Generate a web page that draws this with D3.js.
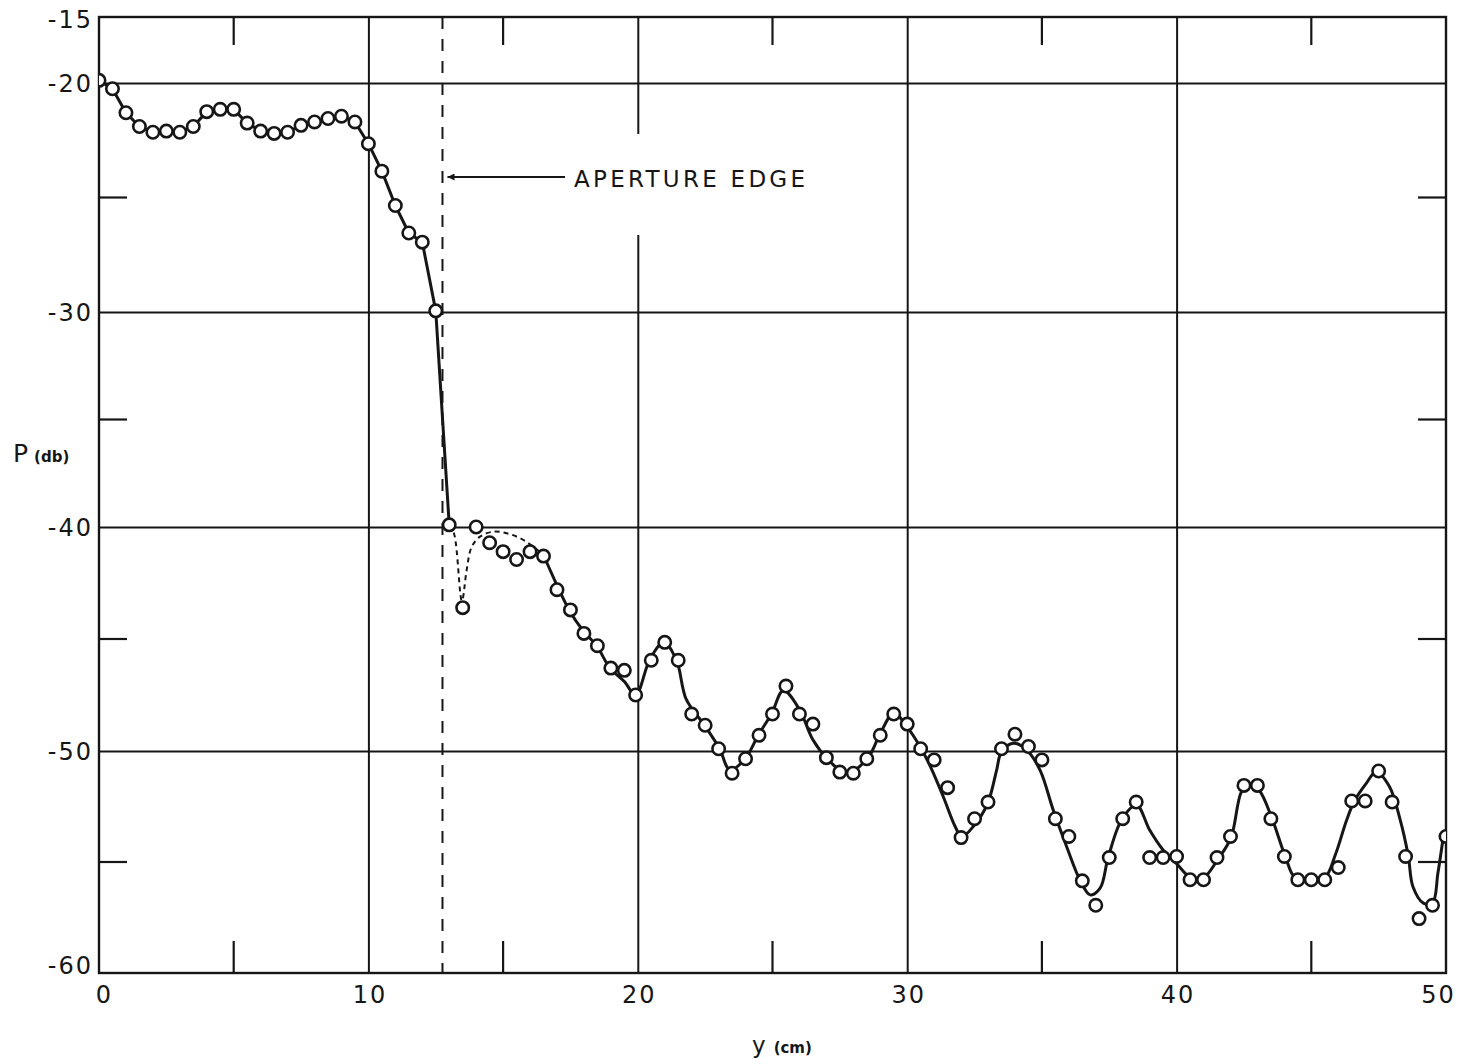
<!DOCTYPE html>
<html>
<head>
<meta charset="utf-8">
<script src="https://cdn.jsdelivr.net/npm/d3@7"></script>
<style>
  html, body { margin: 0; padding: 0; background: #fff; }
  svg { display: block; }
  text { font-family: "DejaVu Sans", sans-serif; fill: #161616; }
</style>
</head>
<body>
<svg id="chart" width="1460" height="1064"></svg>
<script>
// Measured power (dB) across the aperture, sampled every 0.5 cm
const measuredPos = [
  0, 0.5, 1, 1.5, 2, 2.5, 3, 3.5, 4, 4.5,
  5, 5.5, 6, 6.5, 7, 7.5, 8, 8.5, 9, 9.5,
  10, 10.5, 11, 11.5, 12, 12.5, 13, 13.5, 14, 14.5,
  15, 15.5, 16, 16.5, 17, 17.5, 18, 18.5, 19, 19.5,
  19.92, 20.5, 21, 21.5, 22, 22.5, 23, 23.5, 24, 24.5,
  25, 25.5, 26, 26.5, 27, 27.5, 28, 28.5, 29, 29.5,
  30, 30.5, 31, 31.5, 32, 32.5, 33, 33.5, 34, 34.5,
  35, 35.5, 36, 36.5, 37, 37.5, 38, 38.5, 39, 39.5,
  40, 40.5, 41, 41.5, 42, 42.5, 43, 43.5, 44, 44.5,
  45, 45.5, 46, 46.5, 47, 47.5, 48, 48.5, 49, 49.5,
  50
];
const measuredDb = [
  -19.8, -20.25, -21.3, -21.9, -22.15, -22.1, -22.15, -21.9, -21.25, -21.15,
  -21.15, -21.75, -22.1, -22.2, -22.15, -21.85, -21.7, -21.55, -21.45, -21.7,
  -22.65, -23.85, -25.35, -26.55, -26.95, -29.95, -39.9, -43.6, -40.0, -40.7,
  -41.1, -41.45, -41.1, -41.3, -42.8, -43.7, -44.75, -45.3, -46.3, -46.4,
  -47.5, -45.95, -45.15, -45.95, -48.35, -48.85, -49.9, -51.0, -50.35, -49.3,
  -48.35, -47.1, -48.35, -48.8, -50.3, -50.95, -51.0, -50.35, -49.3, -48.35,
  -48.8, -49.9, -50.4, -51.65, -53.9, -53.05, -52.3, -49.9, -49.25, -49.8,
  -50.4, -53.05, -53.85, -55.85, -56.95, -54.8, -53.05, -52.3, -54.8, -54.8,
  -54.75, -55.8, -55.8, -54.8, -53.85, -51.55, -51.55, -53.05, -54.75, -55.8,
  -55.8, -55.8, -55.25, -52.25, -52.25, -50.9, -52.3, -54.75, -57.55, -56.95,
  -53.85
];

// Inside the aperture the solid line joins the samples directly, up to this position
const directLineEnd = 13;

// Smoothed trace drawn through the diffraction region beyond the edge
const fitPos = [
  16.5, 17.0, 17.45, 17.95, 18.47, 18.97, 19.5, 19.92, 20.45, 20.97,
  21.44, 21.8, 22.47, 23.03, 23.42, 23.98, 24.47, 24.97, 25.4, 25.98,
  26.5, 27.0, 27.75, 28.53, 28.97, 29.5, 29.98, 30.5, 30.9, 31.34,
  31.78, 32.02, 32.52, 32.99, 33.32, 33.5, 33.94, 34.43, 34.93, 35.42,
  35.92, 36.41, 36.79, 37.16, 37.46, 37.96, 38.51, 39.0, 39.5, 39.99,
  40.52, 41.0, 41.52, 42.02, 42.4, 42.69, 43.06, 43.53, 44.02, 44.4,
  45.0, 45.5, 45.9, 46.3, 46.6, 47.04, 47.41, 47.9, 48.3, 48.6,
  48.77, 49.16, 49.5, 49.7, 49.9
];
const fitDb = [
  -41.25, -42.6, -43.7, -44.6, -45.3, -46.3, -46.9, -47.5, -45.9, -45.15,
  -45.97, -47.7, -48.84, -49.88, -50.85, -50.36, -49.3, -48.33, -47.3, -48.1,
  -49.5, -50.3, -51.0, -50.33, -49.3, -48.3, -48.9, -49.85, -50.8, -52.06,
  -53.4, -53.86, -53.3, -52.35, -50.86, -50.03, -49.65, -49.95, -50.86, -52.66,
  -54.31, -55.8, -56.48, -56.18, -54.8, -53.1, -52.43, -53.56, -54.46, -55.06,
  -55.7, -55.7, -54.9, -53.9, -51.85, -51.46, -51.76, -53.0, -54.7, -55.7,
  -55.7, -55.7, -54.65, -53.15, -52.25, -51.46, -50.93, -51.6, -53.1, -54.73,
  -56.1, -56.85, -56.85, -55.5, -53.86
];

// Dotted interpolation just past the aperture edge
const dashPos = [13.0, 13.18, 13.47, 13.65, 13.83, 14.14, 14.64, 15.13, 15.63, 16.12, 16.5];
const dashDb  = [-39.9, -40.3, -43.3, -41.9, -40.9, -40.43, -40.21, -40.28, -40.5, -40.88, -41.25];

// Aperture edge marker
const apertureEdge = 12.75;
const apertureLabel = "APERTURE EDGE";

// Axis ticks
const xTickLabels = [0, 10, 20, 30, 40, 50];
const yTickLabels = [-15, -20, -30, -40, -50, -60];
const xGridValues = [10, 20, 30, 40];
const yGridValues = [-20, -30, -40, -50];
const xMinorTicks = [5, 15, 25, 35, 45];
const yMinorTicks = [-25, -35, -45, -55];
const xTitle = "y";
const xUnit = "(cm)";
const yTitle = "P";
const yUnit = "(db)";

const ink = "#161616";
const svg = d3.select("#chart");

const x = d3.scaleLinear().domain([0, 50]).range([99, 1446]);
const y = d3.scaleLinear()
  .domain([-60, -50, -40, -30, -20, -15])
  .range([973, 751, 527, 312, 83, 17]);

const plotLeft = x(0), plotRight = x(50), plotTop = y(-15), plotBottom = y(-60);

const defs = svg.append("defs");
defs.append("clipPath").attr("id", "plot-clip")
  .append("rect")
  .attr("x", plotLeft).attr("y", plotTop)
  .attr("width", plotRight - plotLeft).attr("height", plotBottom - plotTop);

// Grid lines
const gx = svg.append("g")
  .attr("transform", `translate(0,${plotBottom})`)
  .call(d3.axisBottom(x).tickValues(xGridValues).tickSize(-(plotBottom - plotTop)).tickFormat(""));
const gy = svg.append("g")
  .attr("transform", `translate(${plotLeft},0)`)
  .call(d3.axisLeft(y).tickValues(yGridValues).tickSize(-(plotRight - plotLeft)).tickFormat(""));
[gx, gy].forEach(g => {
  g.select(".domain").remove();
  g.selectAll("line").attr("stroke", ink).attr("stroke-width", 2);
});

// Short ticks on all four sides
const minorLen = 28;
const minor = svg.append("g").attr("stroke", ink).attr("stroke-width", 2.2);
xMinorTicks.forEach(v => {
  minor.append("line").attr("x1", x(v)).attr("x2", x(v)).attr("y1", plotTop).attr("y2", plotTop + minorLen);
  minor.append("line").attr("x1", x(v)).attr("x2", x(v)).attr("y1", plotBottom).attr("y2", plotBottom - minorLen - 4);
});
yMinorTicks.forEach(v => {
  minor.append("line").attr("x1", plotLeft).attr("x2", plotLeft + minorLen).attr("y1", y(v)).attr("y2", y(v));
  minor.append("line").attr("x1", plotRight).attr("x2", plotRight - minorLen).attr("y1", y(v)).attr("y2", y(v));
});

// Frame
svg.append("rect")
  .attr("x", plotLeft).attr("y", plotTop)
  .attr("width", plotRight - plotLeft).attr("height", plotBottom - plotTop)
  .attr("fill", "none").attr("stroke", ink).attr("stroke-width", 2.4);

// Tick labels
const xl = svg.append("g")
  .attr("transform", `translate(0,${plotBottom})`)
  .call(d3.axisBottom(x).tickValues(xTickLabels).tickSize(0).tickPadding(13).tickFormat(d => String(d)));
xl.select(".domain").remove();
xl.selectAll("text")
  .attr("font-size", 24).attr("font-family", "DejaVu Sans, sans-serif")
  .attr("letter-spacing", 2).attr("fill", ink)
  .attr("dx", d => d === 0 ? 5 : (d === 50 ? -8 : 1));

const yl = svg.append("g")
  .attr("transform", `translate(${plotLeft},0)`)
  .call(d3.axisLeft(y).tickValues(yTickLabels).tickSize(0).tickPadding(6).tickFormat(d => String(d)));
yl.select(".domain").remove();
yl.selectAll("text")
  .attr("font-size", 24).attr("font-family", "DejaVu Sans, sans-serif")
  .attr("letter-spacing", 2).attr("fill", ink)
  .attr("dy", d => d === -60 ? "0.02em" : (d === -15 ? "0.45em" : "0.36em"));

// Axis titles
const xt = svg.append("text").attr("x", 752).attr("y", 1053);
xt.append("tspan").attr("font-size", 23).text(xTitle);
xt.append("tspan").attr("font-size", 15).attr("font-weight", "bold").attr("dx", 8).text(xUnit);

const yt = svg.append("text").attr("x", 13).attr("y", 462);
yt.append("tspan").attr("font-size", 25).text(yTitle);
yt.append("tspan").attr("font-size", 15).attr("font-weight", "bold").attr("dx", 6).text(yUnit);

// Aperture edge: dashed vertical line, arrow and label
svg.append("line")
  .attr("x1", x(apertureEdge)).attr("x2", x(apertureEdge))
  .attr("y1", plotTop).attr("y2", plotBottom)
  .attr("stroke", ink).attr("stroke-width", 2)
  .attr("stroke-dasharray", "12,10");

svg.append("rect")
  .attr("x", 568).attr("y", 134).attr("width", 246).attr("height", 101)
  .attr("fill", "#fff");

defs.append("marker")
  .attr("id", "arrowhead").attr("viewBox", "0 0 10 10")
  .attr("refX", 10).attr("refY", 5)
  .attr("markerWidth", 10).attr("markerHeight", 7)
  .attr("markerUnits", "userSpaceOnUse")
  .attr("orient", "auto")
  .append("path").attr("d", "M0,0 L10,5 L0,10 Z").attr("fill", ink);

const arrowY = 177;
svg.append("line")
  .attr("x1", 565).attr("x2", x(apertureEdge) + 5)
  .attr("y1", arrowY).attr("y2", arrowY)
  .attr("stroke", ink).attr("stroke-width", 2)
  .attr("marker-end", "url(#arrowhead)");

svg.append("text")
  .attr("x", 574).attr("y", 187)
  .attr("font-size", 23)
  .attr("textLength", 231).attr("lengthAdjust", "spacing")
  .text(apertureLabel);

// Data traces
const measured = measuredPos.map((p, i) => ({ p, v: measuredDb[i] }));
const fit = fitPos.map((p, i) => ({ p, v: fitDb[i] }));
const dashed = dashPos.map((p, i) => ({ p, v: dashDb[i] }));

const plot = svg.append("g").attr("clip-path", "url(#plot-clip)");

const direct = d3.line().x(d => x(d.p)).y(d => y(d.v));
const smooth = d3.line().x(d => x(d.p)).y(d => y(d.v)).curve(d3.curveCatmullRom.alpha(0.5));

plot.append("path")
  .datum(measured.filter(d => d.p <= directLineEnd))
  .attr("d", direct)
  .attr("fill", "none").attr("stroke", ink).attr("stroke-width", 3)
  .attr("stroke-linejoin", "round");

plot.append("path")
  .datum(dashed)
  .attr("d", smooth)
  .attr("fill", "none").attr("stroke", ink).attr("stroke-width", 2)
  .attr("stroke-dasharray", "5,4");

plot.append("path")
  .datum(fit)
  .attr("d", smooth)
  .attr("fill", "none").attr("stroke", ink).attr("stroke-width", 3)
  .attr("stroke-linejoin", "round");

plot.selectAll("circle.sample")
  .data(measured)
  .join("circle")
  .attr("class", "sample")
  .attr("cx", d => x(d.p)).attr("cy", d => y(d.v))
  .attr("r", 6.2)
  .attr("fill", "#fff").attr("stroke", ink).attr("stroke-width", 2.6);
</script>
</body>
</html>
